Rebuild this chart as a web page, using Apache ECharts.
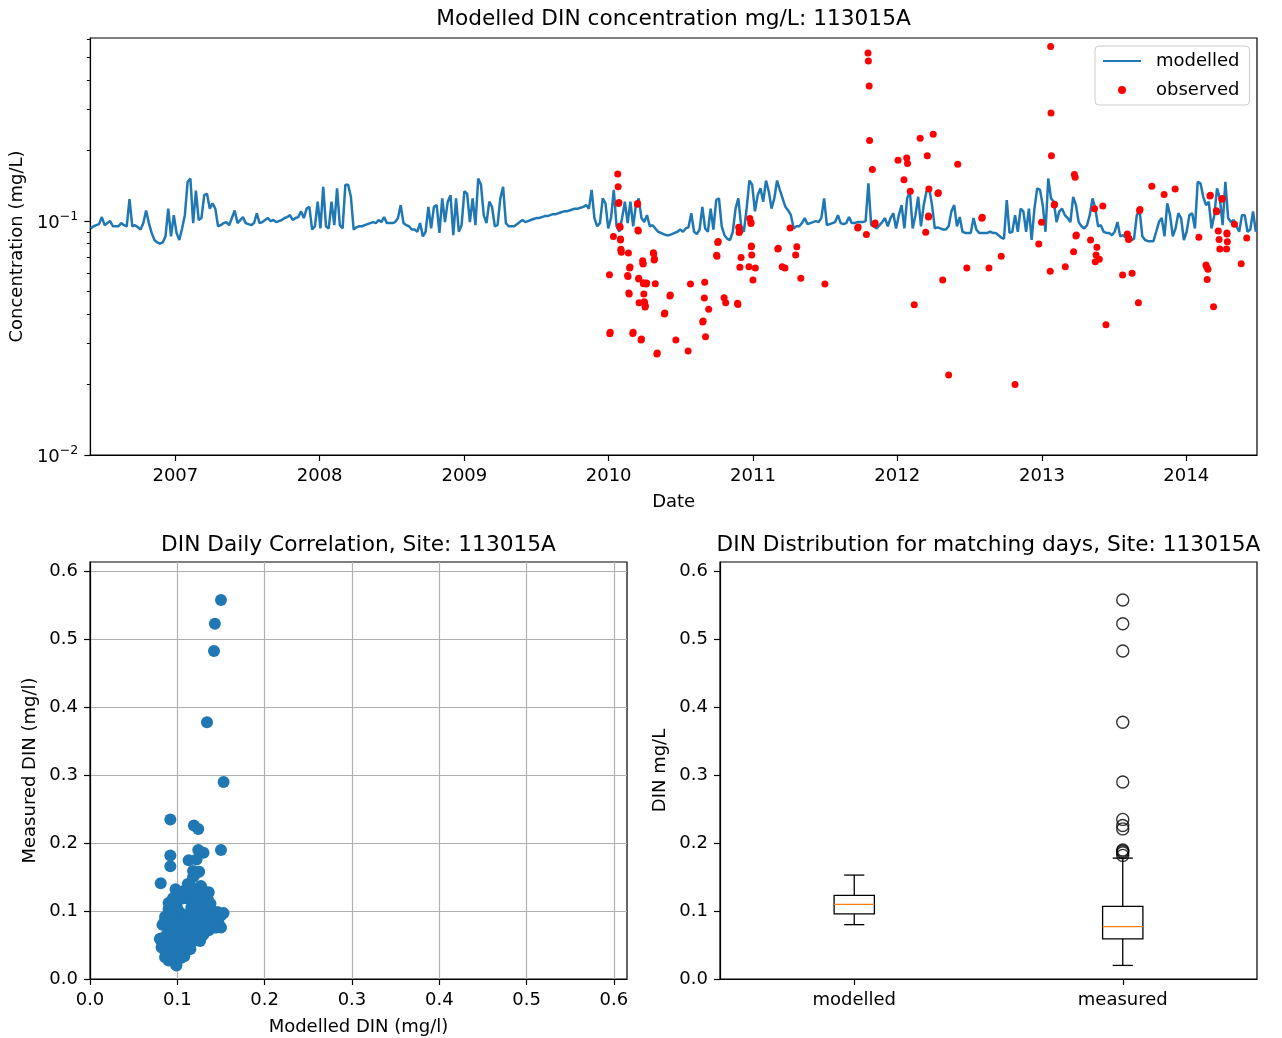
<!DOCTYPE html>
<html lang="en">
<head>
	<meta charset="UTF-8">
	<title>DIN 113015A</title>
	<script src="https://cdn.jsdelivr.net/npm/echarts@6/dist/echarts.min.js" type="text/javascript"></script>
	<style>
		html, body { margin: 0; padding: 0; background: #fff; }
		#main { width: 1282px; height: 1038px; }
	</style>
</head>
<body>
<div id="main"></div>
<script>
	// modelled DIN, weekly readings starting 2006-06-01
	var modelStart = '2006-06-01';
	var modelStepDays = 7;
	var modelled = [
		0.093,0.095,0.096,0.097,0.104,0.096,0.098,0.100,0.095,0.095,
		0.095,0.098,0.096,0.095,0.124,0.095,0.096,0.094,0.092,0.098,
		0.111,0.098,0.089,0.083,0.081,0.080,0.081,0.086,0.113,0.086,
		0.106,0.089,0.083,0.093,0.106,0.147,0.152,0.098,0.135,0.101,
		0.103,0.129,0.131,0.113,0.119,0.113,0.095,0.096,0.098,0.099,
		0.096,0.103,0.111,0.098,0.101,0.104,0.098,0.097,0.096,0.098,
		0.108,0.098,0.099,0.101,0.103,0.100,0.101,0.099,0.100,0.101,
		0.103,0.104,0.106,0.101,0.103,0.104,0.110,0.103,0.113,0.115,
		0.092,0.095,0.121,0.093,0.140,0.095,0.093,0.121,0.096,0.138,
		0.096,0.093,0.143,0.143,0.127,0.092,0.094,0.095,0.095,0.096,
		0.097,0.098,0.099,0.098,0.101,0.099,0.104,0.098,
		0.098,0.098,0.099,0.103,0.117,0.098,0.096,0.095,0.092,0.092,0.090,0.098,
		0.086,0.090,0.115,0.093,0.115,0.117,0.089,0.125,0.099,0.121,
		0.129,0.087,0.125,0.090,0.096,0.134,0.131,0.099,0.125,0.096,
		0.152,0.143,0.106,0.098,0.121,0.115,0.095,0.096,0.125,0.140,
		0.098,0.095,0.095,0.095,0.097,0.099,0.101,0.099,0.100,0.101,
		0.102,0.103,0.103,0.104,0.105,0.105,0.106,0.107,0.107,0.108,
		0.109,0.110,0.110,0.111,0.112,0.113,0.113,0.114,0.115,0.117,
		0.113,0.136,0.103,0.095,0.098,0.125,0.119,0.093,0.103,0.136,
		0.095,0.090,0.103,0.121,0.098,0.121,0.095,0.117,0.125,0.103,
		0.099,0.106,0.095,0.096,0.093,0.090,0.089,0.088,0.087,0.087,
		0.088,0.089,0.090,0.092,0.090,
		0.093,0.094,0.108,0.090,0.088,
		0.092,0.115,0.093,0.090,0.113,0.092,0.123,0.125,0.095,0.087,
		0.084,0.083,0.090,0.113,0.125,0.096,0.090,0.113,0.149,0.143,
		0.110,0.129,0.138,0.121,0.149,0.134,0.113,0.125,0.149,0.136,
		0.125,0.115,0.111,0.106,0.093,0.095,0.095,0.098,0.103,0.097,
		0.098,0.099,0.100,0.099,0.103,0.125,0.096,0.097,0.098,0.099,
		0.106,0.098,0.097,0.098,0.104,0.098,0.098,0.099,0.099,0.099,
		0.100,0.145,0.096,0.095,0.093,0.096,0.099,0.103,0.095,0.103,
		0.108,0.093,0.106,0.117,0.093,0.125,0.134,0.093,0.106,0.127,
		0.095,0.117,0.134,0.138,0.117,0.093,0.094,0.093,0.092,0.092,
		0.095,0.110,0.117,0.095,0.104,0.090,0.089,0.089,0.089,0.103,0.092,
		0.089,0.089,0.089,0.089,0.090,0.089,0.089,0.087,0.085,0.084,
		0.123,0.089,0.090,0.106,0.090,0.113,0.110,0.090,0.113,0.083,
		0.113,0.138,0.136,0.117,0.090,0.152,0.125,0.121,0.099,0.110,
		0.113,0.106,0.103,0.099,0.127,0.117,0.099,0.095,0.093,0.096,
		0.106,0.125,0.113,0.095,0.096,0.090,0.089,0.089,0.087,0.090,
		0.099,0.086,0.087,0.085,0.083,0.083,0.084,0.106,0.111,0.086,
		0.083,0.082,0.082,0.082,0.090,0.099,0.103,0.086,0.119,0.106,
		0.086,0.093,0.108,0.103,0.083,0.090,0.106,0.108,0.093,0.147,
		0.145,0.127,0.117,0.121,0.093,0.106,0.138,0.125,0.096,0.147,
		0.103,0.099,0.101,0.095,0.090,0.106,0.106,0.090,0.092,0.110,0.090
	];

	// observed samples (second block: repeat samples taken a day apart during events)
	var obsDates = [
		'2010-01-03','2010-01-04','2010-01-13','2010-01-24','2010-01-25','2010-01-26','2010-01-30','2010-01-31','2010-02-01','2010-02-02',
		'2010-02-19','2010-02-20','2010-02-22','2010-02-23','2010-03-03','2010-03-15','2010-03-17','2010-03-18','2010-03-19','2010-03-24',
		'2010-03-28','2010-03-29','2010-03-30','2010-03-31','2010-04-02','2010-04-03','2010-04-06','2010-04-25','2010-04-26','2010-04-29',
		'2010-05-03','2010-05-22','2010-06-05','2010-06-20','2010-07-21','2010-07-27','2010-08-27','2010-08-31','2010-09-01','2010-09-03',
		'2010-09-11','2010-10-02','2010-10-04','2010-10-20','2010-10-24','2010-11-23','2010-11-24','2010-11-26','2010-11-27','2010-11-29',
		'2010-12-02','2010-12-22','2010-12-24','2010-12-27','2010-12-28','2010-12-29','2011-01-01','2011-01-07','2011-03-05','2011-03-16',
		'2011-03-23','2011-04-05','2011-04-19','2011-04-22','2011-05-02','2011-07-02','2011-09-23','2011-10-15','2011-10-19','2011-10-20',
		'2011-10-22','2011-10-23','2011-10-30','2011-11-05','2012-01-03','2012-01-18','2012-01-25','2012-01-27','2012-02-03','2012-02-13',
		'2012-02-28','2012-03-13','2012-03-17','2012-03-20','2012-03-21','2012-04-01','2012-04-13','2012-04-25','2012-05-10','2012-06-02',
		'2012-06-25','2012-08-02','2012-08-20','2012-09-20','2012-10-25','2012-12-24','2012-12-31','2013-01-22','2013-01-23','2013-01-24',
		'2013-01-25','2013-02-01','2013-03-01','2013-03-22','2013-03-24','2013-03-26','2013-03-28','2013-05-04','2013-05-14','2013-05-16',
		'2013-05-18','2013-05-20','2013-05-26','2013-06-04','2013-06-12','2013-07-24','2013-08-05','2013-08-08','2013-08-17','2013-09-02',
		'2013-09-05','2013-10-06','2013-11-06','2013-12-04','2014-02-02','2014-02-20','2014-02-22','2014-02-23','2014-02-25','2014-03-02',
		'2014-03-11','2014-03-19','2014-03-23','2014-03-25','2014-03-27','2014-04-01','2014-04-13','2014-04-14','2014-04-15','2014-05-03',
		'2014-05-20','2014-06-03',
		'2010-01-05','2010-03-04','2010-05-04','2010-03-25','2010-08-28','2010-05-23','2010-04-01','2010-04-04','2010-02-21','2010-06-06',
		'2010-03-30','2010-04-07','2010-03-18','2010-02-18','2010-02-24','2010-03-29','2010-04-27','2010-10-01','2010-04-24','2010-02-01',
		'2010-12-28','2011-03-06','2010-10-05','2010-01-31','2013-08-09','2013-03-29','2014-04-14','2010-11-28','2010-03-16','2010-01-29',
		'2011-09-24','2011-11-06','2010-12-27','2012-08-03','2012-03-20','2013-09-06','2014-03-18','2013-02-02','2010-03-15','2010-01-27',
		'2014-04-02','2012-04-14','2014-03-03'
	];
	var obsValues = [
		0.059,0.033,0.086,0.159,0.140,0.119,0.094,0.083,0.075,0.0735,
		0.058,0.073,0.0488,0.063,0.0331,0.118,0.0906,0.0565,0.0448,0.031,
		0.0677,0.0655,0.054,0.0488,0.0448,0.0429,0.0538,0.0725,0.0682,0.054,
		0.027,0.0401,0.0478,0.031,0.0278,0.0538,0.037,0.0469,0.0547,0.032,
		0.042,0.0707,0.081,0.047,0.0448,0.0445,0.044,0.094,0.0893,0.0634,
		0.0699,0.0638,0.1025,0.0976,0.0776,0.0716,0.056,0.063,0.0759,0.0638,
		0.063,0.0935,0.0716,0.0776,0.057,0.0538,0.0935,0.0877,0.523,0.483,
		0.378,0.221,0.166,0.097,0.182,0.150,0.186,0.176,0.134,0.0439,
		0.226,0.0895,0.190,0.104,0.137,0.235,0.131,0.056,0.022,0.175,
		0.063,0.1027,0.063,0.0707,0.020,0.0797,0.0988,0.061,0.558,0.290,
		0.190,0.117,0.0638,0.074,0.158,0.154,0.0863,0.083,0.113,0.067,
		0.0716,0.0772,0.0686,0.116,0.036,0.0588,0.088,0.0835,0.0598,0.0447,
		0.111,0.141,0.130,0.137,0.0852,0.0649,0.0634,0.0562,0.0622,0.1279,
		0.043,0.1096,0.0906,0.0835,0.0759,0.1238,0.0759,0.088,0.0816,0.097,
		0.0657,0.0846,
		0.0335,0.0335,0.0273,0.0313,0.0374,0.0405,0.0452,0.0433,0.0493,0.0483,
		0.0545,0.0543,0.057,0.0585,0.0636,0.066,0.0688,0.0714,0.0732,0.0757,
		0.0783,0.0766,0.0818,0.0838,0.0843,0.0871,0.0888,0.0902,0.0915,0.0949,
		0.0944,0.098,0.0986,0.1037,0.105,0.112,0.1107,0.118,0.119,0.120,
		0.125,0.132,0.129
	];
	// modelled DIN on the same (matching) days, same order as obsValues
	var matchModelled = [
		0.080,0.092,0.098,0.118,0.112,0.107,0.100,0.097,0.104,0.110,
		0.108,0.096,0.094,0.100,0.101,0.112,0.106,0.098,0.096,0.104,
		0.096,0.102,0.095,0.091,0.093,0.099,0.101,0.097,0.094,0.092,
		0.095,0.090,0.083,0.091,0.093,0.084,0.087,0.082,0.090,0.086,
		0.092,0.105,0.100,0.103,0.107,0.111,0.115,0.128,0.132,0.120,
		0.125,0.126,0.138,0.142,0.135,0.136,0.126,0.117,0.145,0.122,
		0.128,0.150,0.132,0.146,0.121,0.113,0.102,0.105,0.143,0.142,
		0.134,0.124,0.092,0.104,0.092,0.118,0.130,0.122,0.128,0.110,
		0.119,0.118,0.124,0.123,0.127,0.092,0.121,0.115,0.098,0.113,
		0.097,0.090,0.093,0.096,0.099,0.083,0.092,0.112,0.150,0.153,
		0.150,0.135,0.120,0.127,0.125,0.120,0.131,0.111,0.128,0.114,
		0.109,0.106,0.118,0.121,0.103,0.097,0.093,0.085,0.081,0.084,
		0.099,0.081,0.108,0.115,0.118,0.113,0.116,0.119,0.124,0.136,
		0.107,0.129,0.141,0.147,0.150,0.133,0.143,0.144,0.139,0.153,
		0.130,0.126,
		0.100,0.108,0.090,0.097,0.094,0.102,0.088,0.113,0.105,0.098,
		0.112,0.086,0.118,0.090,0.109,0.088,0.116,0.124,0.102,0.093,
		0.114,0.130,0.088,0.108,0.122,0.138,0.097,0.115,0.086,0.126,
		0.111,0.094,0.146,0.100,0.116,0.090,0.138,0.104,0.095,0.118,
		0.110,0.098,0.125
	];

	// box plot stats [low whisker, q1, median, q3, high whisker]
	var boxCategories = ['modelled', 'measured'];
	var modelledBox = [0.080, 0.096, 0.110, 0.123, 0.153];
	var measuredBox = [0.020, 0.059, 0.077, 0.107, 0.178];
	var measuredOutliers = [0.558, 0.523, 0.483, 0.378, 0.290, 0.235, 0.226, 0.221, 0.190, 0.188, 0.186, 0.182];

	// ticks
	var dateRange = ['2006-05-31', '2014-06-29'];
	var yearTicks = ['2007-01-01','2008-01-01','2009-01-01','2010-01-01','2011-01-01','2012-01-01','2013-01-01','2014-01-01'];
	var logMajor = [0.01, 0.1];
	var logMinor = [0.02,0.03,0.04,0.05,0.06,0.07,0.08,0.09,0.2,0.3,0.4,0.5,0.6];
	var linTicks = [0, 0.1, 0.2, 0.3, 0.4, 0.5, 0.6];

	var FONT = 'DejaVu Sans';
	var BLUE = '#1f77b4';

	function ts(s) { return echarts.time.parse(s).getTime(); }

	var t0 = ts(modelStart);
	var modelData = [];
	for (var i = 0; i < modelled.length; i++) {
		modelData.push([t0 + i * modelStepDays * 86400000, modelled[i]]);
	}
	var obsData = [];
	for (var j = 0; j < obsValues.length; j++) {
		obsData.push([ts(obsDates[j]), obsValues[j]]);
	}
	var corrData = [];
	for (var m = 0; m < obsValues.length; m++) {
		corrData.push([matchModelled[m], obsValues[m]]);
	}
	var outlierData = [];
	for (var n = 0; n < measuredOutliers.length; n++) {
		outlierData.push([1, measuredOutliers[n]]);
	}
	var yearTickTs = yearTicks.map(ts);

	var tickLabel = { color: '#000', fontSize: 18, fontFamily: FONT };
	var nameText = { color: '#000', fontSize: 18, fontFamily: FONT };
	var axisLineBlack = { show: true, lineStyle: { color: '#000', width: 1.2 } };
	function fix1(v) { return v.toFixed(1); }

	function linearAxis(grid, max, withGrid, name, gap, margin) {
		return {
			type: 'value', gridIndex: grid, min: 0, max: max,
			name: name, nameLocation: 'middle', nameGap: gap, nameTextStyle: nameText,
			axisLine: axisLineBlack,
			axisTick: { show: true, length: 6, lineStyle: { color: '#000', width: 1.2 }, customValues: linTicks },
			axisLabel: Object.assign({ margin: margin, formatter: fix1, customValues: linTicks }, tickLabel),
			splitLine: { show: withGrid, lineStyle: { color: '#b0b0b0', width: 1.2 } }
		};
	}

	var myChart = echarts.init(document.getElementById('main'));
	var titleStyle = { fontSize: 21.7, fontWeight: 'normal', color: '#000', lineHeight: 26, fontFamily: FONT };
	var option = {
		animation: false,
		backgroundColor: '#fff',
		textStyle: { fontFamily: FONT },
		title: [
			{ text: 'Modelled DIN concentration mg/L: 113015A', left: 673.5, top: 6, textAlign: 'center', padding: 0, textStyle: titleStyle },
			{ text: 'DIN Daily Correlation, Site: 113015A', left: 358.5, top: 532, textAlign: 'center', padding: 0, textStyle: titleStyle },
			{ text: 'DIN Distribution for matching days, Site: 113015A', left: 988.5, top: 532, textAlign: 'center', padding: 0, textStyle: titleStyle }
		],
		legend: {
			data: [{ name: 'modelled', itemStyle: { opacity: 0 } }, { name: 'observed' }],
			orient: 'vertical', left: 1095, top: 46,
			padding: [5, 10, 5, 7],
			itemWidth: 38, itemHeight: 8, itemGap: 9,
			backgroundColor: 'rgba(255,255,255,0.8)', borderColor: '#cccccc', borderWidth: 1, borderRadius: 4,
			textStyle: { color: '#000', fontSize: 18, lineHeight: 20, fontFamily: FONT, padding: [0, 0, 0, 10] }
		},
		grid: [
			{ left: 90, top: 38, width: 1167, height: 417, show: true, borderColor: '#000', borderWidth: 1.2 },
			{ left: 90, top: 562, width: 537, height: 417, show: true, borderColor: '#000', borderWidth: 1.2 },
			{ left: 720, top: 562, width: 537, height: 417, show: true, borderColor: '#000', borderWidth: 1.2 }
		],
		xAxis: [
			{
				type: 'value', gridIndex: 0, min: ts(dateRange[0]), max: ts(dateRange[1]),
				name: 'Date', nameLocation: 'middle', nameGap: 38, nameTextStyle: nameText,
				axisLine: axisLineBlack,
				axisTick: { show: true, length: 6, lineStyle: { color: '#000', width: 1.2 }, customValues: yearTickTs },
				axisLabel: Object.assign({ margin: 12, customValues: yearTickTs,
					formatter: function (v) { return String(new Date(v).getFullYear()); } }, tickLabel),
				splitLine: { show: false }
			},
			linearAxis(1, 0.615, true, 'Modelled DIN (mg/l)', 39, 12),
			{
				type: 'category', gridIndex: 2, data: boxCategories, boundaryGap: true,
				axisLine: axisLineBlack,
				axisTick: { show: true, alignWithLabel: true, length: 6, lineStyle: { color: '#000', width: 1.2 } },
				axisLabel: Object.assign({ margin: 12 }, tickLabel),
				splitLine: { show: false }
			}
		],
		yAxis: [
			{
				type: 'log', logBase: 10, gridIndex: 0, min: 0.01, max: 0.606,
				name: 'Concentration (mg/L)', nameLocation: 'middle', nameGap: 64, nameTextStyle: nameText,
				axisLine: axisLineBlack,
				axisTick: { show: true, length: 6, lineStyle: { color: '#000', width: 1.2 }, customValues: logMajor },
				axisLabel: {
					margin: 12, customValues: logMajor, color: '#000', fontFamily: FONT,
					formatter: function (v) {
						var e = Math.round(Math.log(v) / Math.LN10);
						return '{b|10}{s|\u2212' + (-e) + '}';
					},
					rich: {
						b: { fontSize: 18, lineHeight: 22, verticalAlign: 'bottom', color: '#000', fontFamily: FONT },
						s: { fontSize: 12.6, lineHeight: 12, verticalAlign: 'top', color: '#000', fontFamily: FONT }
					}
				},
				splitLine: { show: false }
			},
			{
				type: 'log', logBase: 10, gridIndex: 0, min: 0.01, max: 0.606, position: 'left',
				axisLine: { show: false },
				axisTick: { show: true, length: 3.5, lineStyle: { color: '#000', width: 1 }, customValues: logMinor },
				axisLabel: { show: false },
				splitLine: { show: false }
			},
			linearAxis(1, 0.614, true, 'Measured DIN (mg/l)', 51, 12),
			linearAxis(2, 0.614, false, 'DIN mg/L', 51, 12)
		],
		series: [
			{
				name: 'modelled', type: 'line', xAxisIndex: 0, yAxisIndex: 0,
				data: modelData, symbol: 'none', showSymbol: false,
				lineStyle: { color: BLUE, width: 2.5 }, itemStyle: { color: BLUE }, z: 2
			},
			{
				name: 'observed', type: 'scatter', xAxisIndex: 0, yAxisIndex: 0,
				data: obsData, symbol: 'circle', symbolSize: 7,
				itemStyle: { color: '#ff0000', opacity: 1 }, z: 3
			},
			{
				type: 'scatter', xAxisIndex: 1, yAxisIndex: 2,
				data: corrData, symbol: 'circle', symbolSize: 12,
				itemStyle: { color: BLUE, opacity: 1 }, z: 3
			},
			{
				type: 'custom', xAxisIndex: 2, yAxisIndex: 3,
				data: [[0].concat(modelledBox), [1].concat(measuredBox)],
				renderItem: function (params, api) {
					var idx = api.value(0);
					var lo = api.coord([idx, api.value(1)]);
					var q1 = api.coord([idx, api.value(2)]);
					var md = api.coord([idx, api.value(3)]);
					var q3 = api.coord([idx, api.value(4)]);
					var hi = api.coord([idx, api.value(5)]);
					var half = api.size([1, 0])[0] * 0.075;
					var cap = half / 2;
					var x = lo[0];
					var st = { stroke: '#000', lineWidth: 1.3, fill: 'none' };
					return {
						type: 'group',
						children: [
							{ type: 'line', shape: { x1: x, y1: lo[1], x2: x, y2: q1[1] }, style: st },
							{ type: 'line', shape: { x1: x, y1: q3[1], x2: x, y2: hi[1] }, style: st },
							{ type: 'line', shape: { x1: x - cap, y1: lo[1], x2: x + cap, y2: lo[1] }, style: st },
							{ type: 'line', shape: { x1: x - cap, y1: hi[1], x2: x + cap, y2: hi[1] }, style: st },
							{ type: 'rect', shape: { x: x - half, y: q3[1], width: half * 2, height: q1[1] - q3[1] },
								style: { stroke: '#000', lineWidth: 1.3, fill: '#fff' } },
							{ type: 'line', shape: { x1: x - half, y1: md[1], x2: x + half, y2: md[1] },
								style: { stroke: '#ff7f0e', lineWidth: 1.3 } }
						]
					};
				}
			},
			{
				type: 'scatter', xAxisIndex: 2, yAxisIndex: 3,
				data: outlierData, symbol: 'circle', symbolSize: 12,
				itemStyle: { color: 'rgba(0,0,0,0)', borderColor: '#000', borderWidth: 1.4 }
			}
		]
	};
	myChart.setOption(option);
</script>
</body>
</html>
